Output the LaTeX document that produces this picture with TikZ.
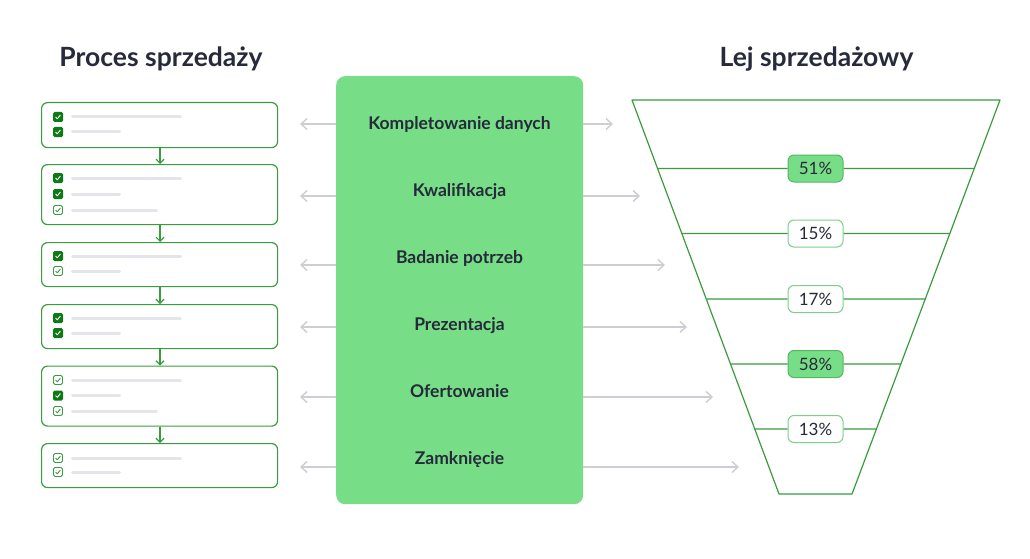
\documentclass[tikz,border=0pt]{standalone}
\usepackage{fontspec}
\setmainfont{Lato}
\usetikzlibrary{arrows.meta,calc}
\definecolor{navy}{HTML}{262A3B}
\definecolor{lgreen}{HTML}{77DD86}
\definecolor{bgreen}{HTML}{3A9C3E}
\definecolor{dgreen}{HTML}{0E7A16}
\definecolor{lgray}{HTML}{E4E5EA}
\definecolor{agray}{HTML}{CDCDD4}
\definecolor{pborder}{HTML}{52B862}
\definecolor{wborder}{HTML}{7CCF88}
\newcommand\chkon[2]{%
  \fill[dgreen,rounded corners=1.5pt] (#1-5,#2-5) rectangle (#1+5,#2+5);
  \draw[white,line width=0.9pt,line cap=round,line join=round] (#1-2.3,#2+0.2) -- (#1-0.7,#2+1.8) -- (#1+2.3,#2-1.8);}
\newcommand\chkoff[2]{%
  \draw[bgreen,fill=white,line width=0.9pt,rounded corners=1.5pt] (#1-4.5,#2-4.5) rectangle (#1+4.5,#2+4.5);
  \draw[bgreen,line width=0.9pt,line cap=round,line join=round] (#1-2.3,#2+0.2) -- (#1-0.7,#2+1.8) -- (#1+2.3,#2-1.8);}
\newcommand\barlong[1]{\draw[bar] (72.5,#1) -- (180.5,#1);}
\newcommand\barshort[1]{\draw[bar] (72.5,#1) -- (119.5,#1);}
\newcommand\barmid[1]{\draw[bar] (72.5,#1) -- (156.5,#1);}
\begin{document}
\begin{tikzpicture}[x=1pt,y=-1pt,
  stepbox/.style={draw=bgreen,line width=1.2pt,rounded corners=6pt,fill=white,
    minimum width=236pt,inner sep=0pt,anchor=north west},
  bar/.style={lgray,line width=3pt,line cap=round},
  flow/.style={draw=bgreen,line width=1.1pt,-{Straight Barb[length=4pt,width=8pt]}},
  side/.style={draw=agray,line width=1.4pt,-{Straight Barb[length=6pt,width=11pt]}},
  title/.style={font=\bfseries\fontsize{26.5}{26.5}\selectfont,text=navy,anchor=base},
  stage/.style={font=\bfseries\fontsize{17.5}{17.5}\selectfont,text=navy,anchor=base},
  pct/.style={rounded corners=6pt,minimum width=55pt,minimum height=27pt,inner sep=0pt,
    line width=1pt,font=\fontsize{17}{17}\selectfont,text=navy},
  pcton/.style={pct,fill=lgreen,draw=pborder},
  pctoff/.style={pct,fill=white,draw=wborder},
  fline/.style={draw=bgreen,line width=1.2pt}
]
\useasboundingbox[fill=white] (0,0) rectangle (1030,559);

% titles
\node[title] (t1) at (161,67) {Proces sprzedaży};
\node[title] (t2) at (816.5,67) {Lej sprzedażowy};

% left step boxes
\node[stepbox,minimum height=45pt] (b1) at (41,102) {};
\node[stepbox,minimum height=60pt] (b2) at (41,164) {};
\node[stepbox,minimum height=44pt] (b3) at (41,242) {};
\node[stepbox,minimum height=44pt] (b4) at (41,304) {};
\node[stepbox,minimum height=60pt] (b5) at (41,365.5) {};
\node[stepbox,minimum height=44pt] (b6) at (41,443) {};

\draw[flow] (b1.south -| 160,0) -- (b2.north -| 160,0);
\draw[flow] (b2.south -| 160,0) -- (b3.north -| 160,0);
\draw[flow] (b3.south -| 160,0) -- (b4.north -| 160,0);
\draw[flow] (b4.south -| 160,0) -- (b5.north -| 160,0);
\draw[flow] (b5.south -| 160,0) -- (b6.north -| 160,0);

% box 1
\chkon{58}{117}\barlong{117}
\chkon{58}{132}\barshort{132}
% box 2
\chkon{58}{178}\barlong{178}
\chkon{58}{194}\barshort{194}
\chkoff{58}{210}\barmid{210}
% box 3
\chkon{58}{256}\barlong{256}
\chkoff{58}{271}\barshort{271}
% box 4
\chkon{58}{318}\barlong{318}
\chkon{58}{333}\barshort{333}
% box 5
\chkoff{58}{380}\barlong{380}
\chkon{58}{395.5}\barshort{395.5}
\chkoff{58}{411}\barmid{411}
% box 6
\chkoff{58}{458}\barlong{458}
\chkoff{58}{472}\barshort{472}

% middle block
\node[fill=lgreen,rounded corners=9pt,minimum width=247pt,minimum height=428pt,
  inner sep=0pt,anchor=north west] (mid) at (336,76) {};
\node[stage] (s1) at (459.5,129.5) {Kompletowanie danych};
\node[stage] (s2) at (459.5,196.5) {Kwalifikacja};
\node[stage] (s3) at (459.5,263.5) {Badanie potrzeb};
\node[stage] (s4) at (459.5,330.5) {Prezentacja};
\node[stage] (s5) at (459.5,397.5) {Ofertowanie};
\node[stage] (s6) at (459.5,464.5) {Zamknięcie};

\coordinate (L1) at (300,124); \coordinate (R1) at (613,124);
\coordinate (L2) at (300,196); \coordinate (R2) at (640,196);
\coordinate (L3) at (300,265); \coordinate (R3) at (665,265);
\coordinate (L4) at (300,327); \coordinate (R4) at (687,327);
\coordinate (L5) at (300,397); \coordinate (R5) at (713,397);
\coordinate (L6) at (300,467); \coordinate (R6) at (739,467);
\foreach \i in {1,...,6}{
  \draw[side] (mid.west |- L\i) -- (L\i);
  \draw[side] (mid.east |- R\i) -- (R\i);
}

% funnel
\coordinate (ftl) at (632,100);
\coordinate (ftr) at (1000,100);
\coordinate (fbr) at (852,494);
\coordinate (fbl) at (779,494);
\draw[fline,line join=round] (ftl) -- (ftr) -- (fbr) -- (fbl) -- cycle;

\node[pcton]  (p1) at (815.5,168.5) {51\%};
\node[pctoff] (p2) at (815.5,233.5) {15\%};
\node[pctoff] (p3) at (815.5,299) {17\%};
\node[pcton]  (p4) at (815.5,364) {58\%};
\node[pctoff] (p5) at (815.5,429) {13\%};

\foreach \i/\y in {1/168.5,2/233.5,3/299,4/364,5/429}{
  \coordinate (fl\i) at ($(ftl)!{(\y-100)/394}!(fbl)$);
  \coordinate (fr\i) at ($(ftr)!{(\y-100)/394}!(fbr)$);
  \draw[fline] (fl\i) -- (p\i.west);
  \draw[fline] (p\i.east) -- (fr\i);
}
\end{tikzpicture}
\end{document}
